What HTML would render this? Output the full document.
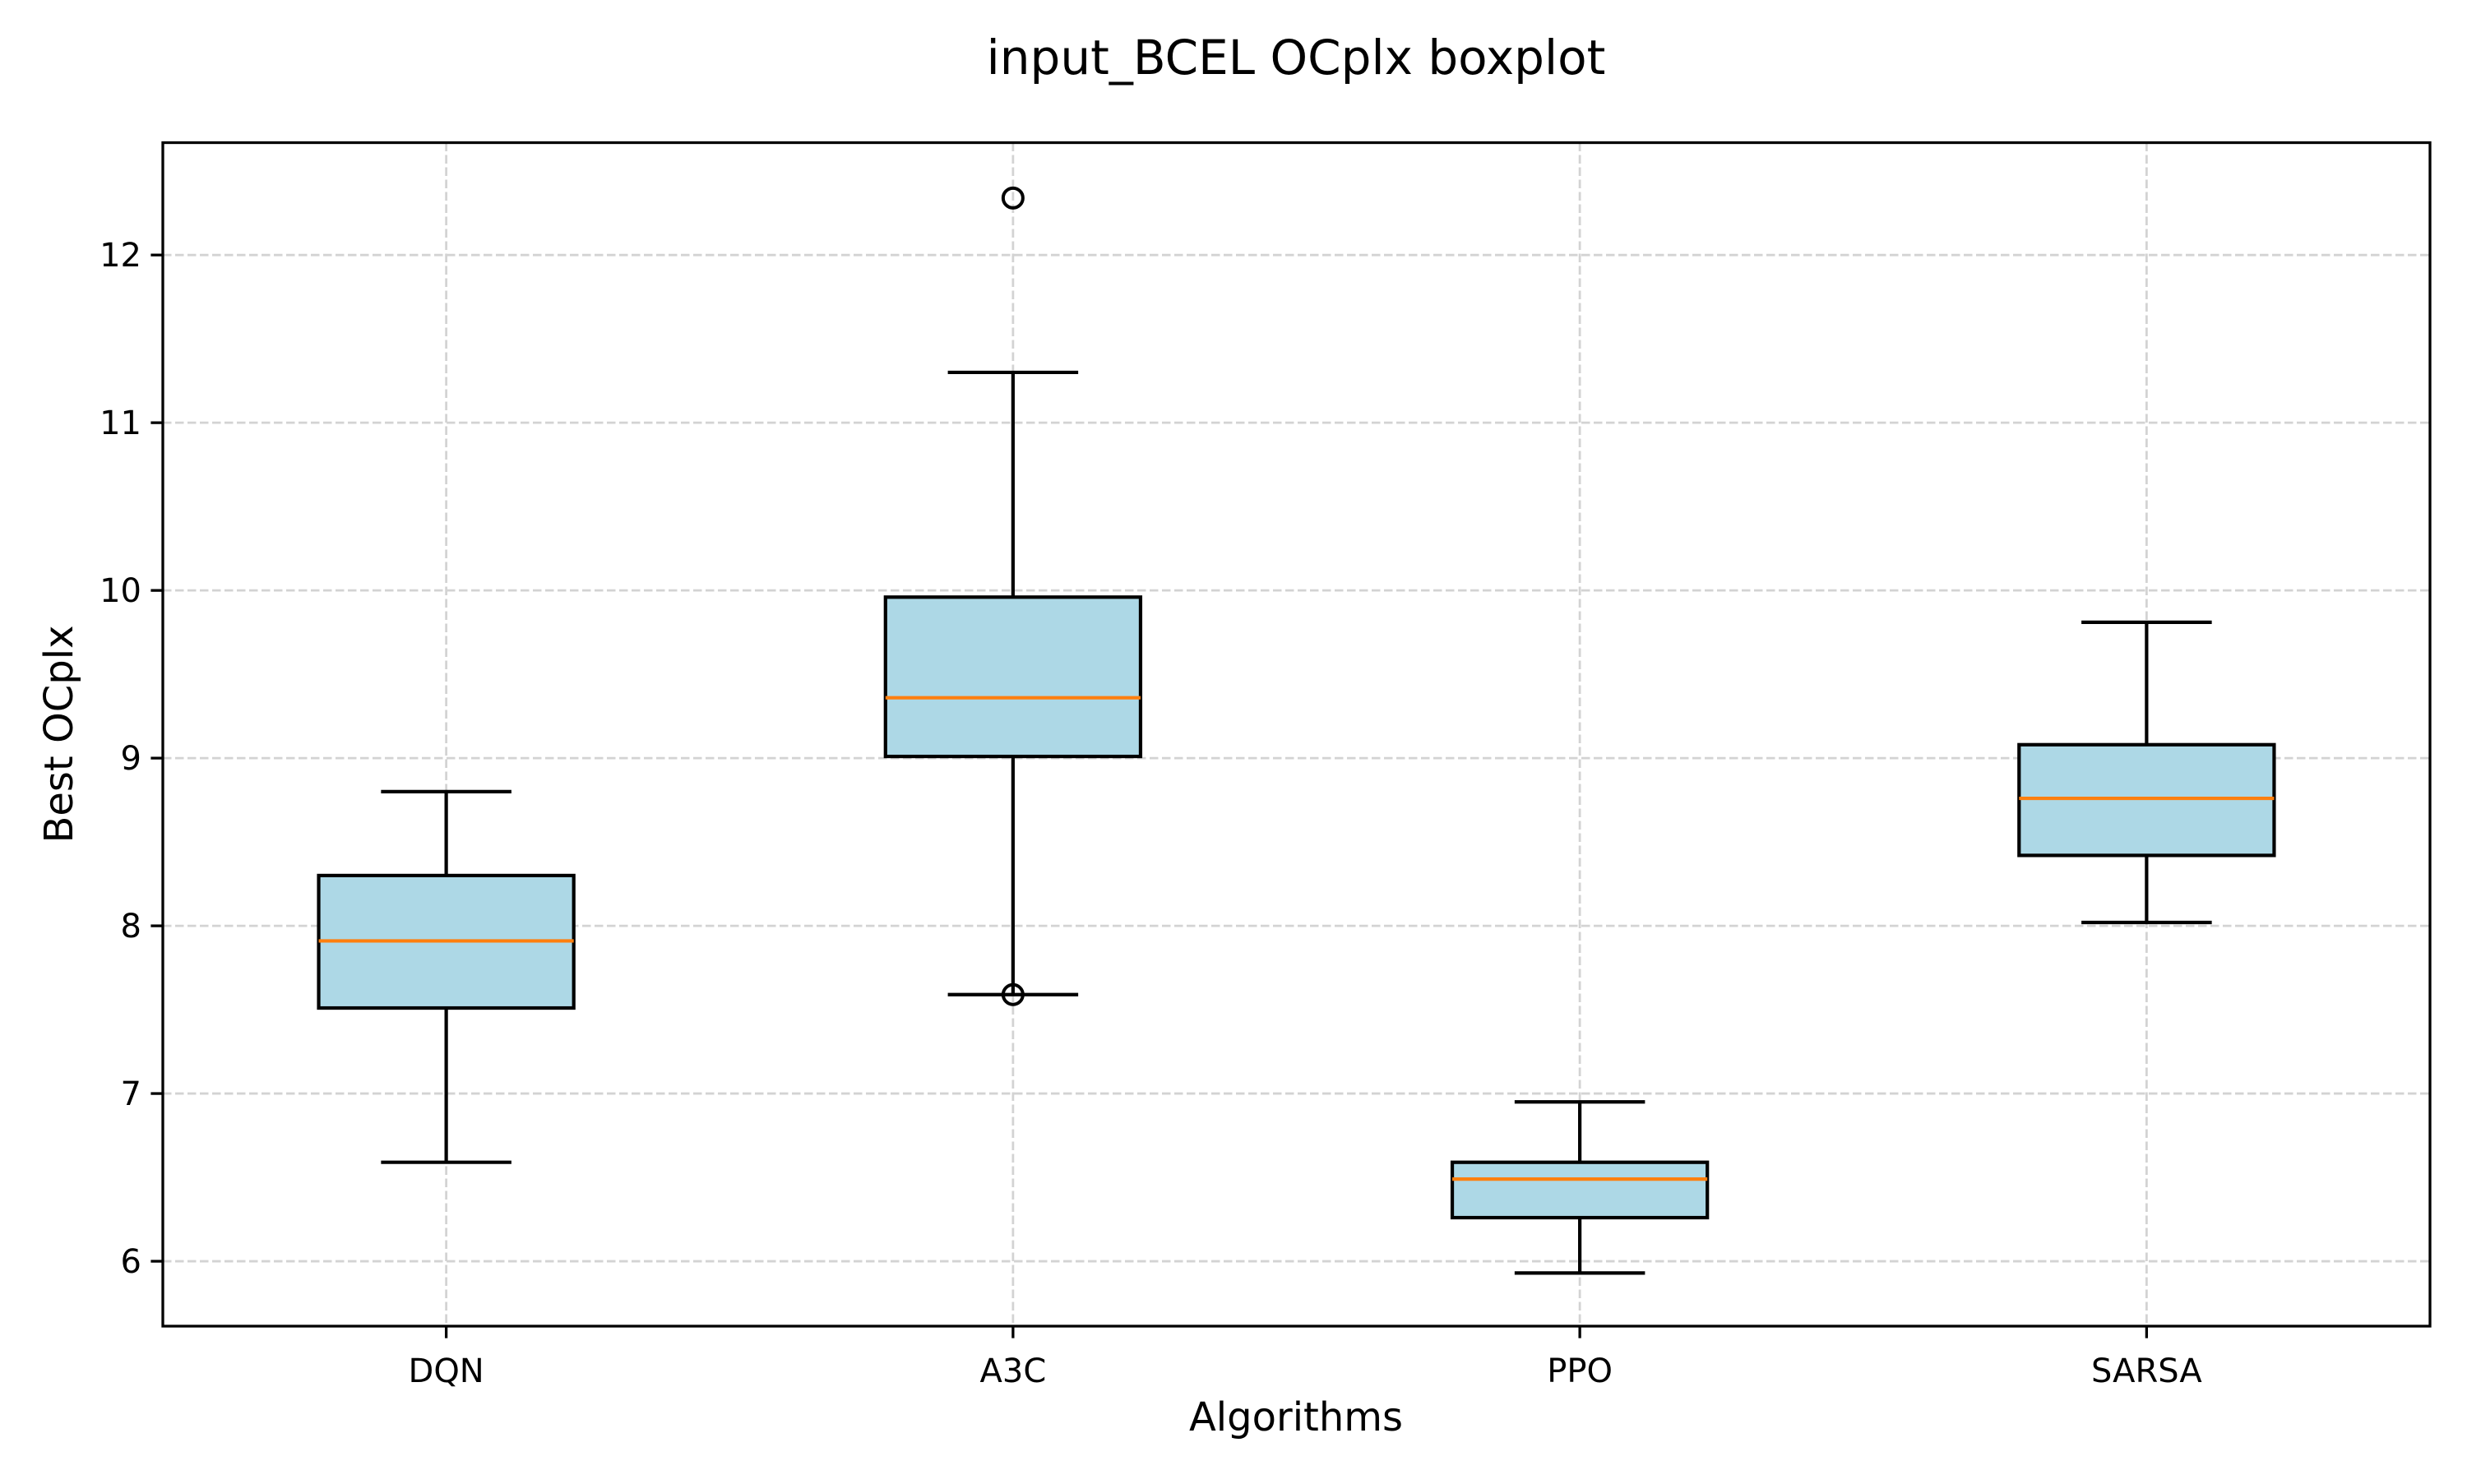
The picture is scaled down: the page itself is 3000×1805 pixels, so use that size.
<!DOCTYPE html>
<html><head><meta charset="utf-8"><style>
html,body{margin:0;padding:0;background:#fff;}
svg text{font-family:"DejaVu Sans","Liberation Sans",sans-serif;fill:#000;}
</style></head><body>
<svg id="chart" width="3000" height="1800" viewBox="0 0 3000 1800" xmlns="http://www.w3.org/2000/svg">
<rect width="3000" height="1800" fill="#fff"/>
<text x="1576" y="90" font-size="58" text-anchor="middle">input_BCEL OCplx boxplot</text>
<g id="grid"></g>
<g id="boxes"></g>
<rect x="198" y="173.5" width="2757" height="1439.5" fill="none" stroke="#000" stroke-width="3.3"/>
<g id="axes"></g>
<text x="1576" y="1740" font-size="48" text-anchor="middle">Algorithms</text>
<text transform="translate(88,893) rotate(-90)" font-size="48" text-anchor="middle">Best OCplx</text>
</svg>
<script>
const categories = ["DQN","A3C","PPO","SARSA"];
const whiskerLow = [6.59, 7.59, 5.93, 8.02];
const q1 = [7.51, 9.01, 6.26, 8.42];
const medians = [7.91, 9.36, 6.49, 8.76];
const q3 = [8.30, 9.96, 6.59, 9.08];
const whiskerHigh = [8.80, 11.30, 6.95, 9.81];
const outlierCat = [1, 1];
const outlierVal = [12.34, 7.59];
const yTicks = [6, 7, 8, 9, 10, 11, 12];

const NS = "http://www.w3.org/2000/svg";
const L = 198, R = 2955, T = 173.5, B = 1613;
const yMin = 5.613, yMax = 12.67;
function xs(i){ return L + (i + 0.5) * (R - L) / categories.length; }
function ys(v){ return B - (v - yMin) / (yMax - yMin) * (B - T); }
function mk(tag, attrs, parent){
  const e = document.createElementNS(NS, tag);
  for (const k in attrs) e.setAttribute(k, attrs[k]);
  parent.appendChild(e);
  return e;
}
const unit = (R - L) / categories.length;
const grid = document.getElementById('grid');
const boxes = document.getElementById('boxes');
const axes = document.getElementById('axes');
const gstyle = {stroke:'#d3d3d3', 'stroke-width':2.8, 'stroke-dasharray':'10.5,4.5'};

yTicks.forEach(t => {
  const y = ys(t);
  const g = mk('line', Object.assign({x1:L, x2:R, y1:y, y2:y}, gstyle), grid);
  
  
  const tk = mk('line', {x1:L-14.6, x2:L, y1:y, y2:y, stroke:'#000', 'stroke-width':3.3}, axes);
  
  
  const tx = mk('text', {x:L-26, y:y+14, 'font-size':40, 'text-anchor':'end'}, axes);
  tx.textContent = t;
  
  
});

categories.forEach((c, i) => {
  const x = xs(i);
  const g = mk('line', Object.assign({x1:x, x2:x, y1:T, y2:B}, gstyle), grid);
  
  
  const tk = mk('line', {x1:x, x2:x, y1:B, y2:B+14.6, stroke:'#000', 'stroke-width':3.3}, axes);
  
  
  const tx = mk('text', {x:x, y:B+68, 'font-size':40, 'text-anchor':'middle'}, axes);
  tx.textContent = c;
  
  

  const hw = unit * 0.225, cw = unit * 0.115;
  const lw = {stroke:'#000', 'stroke-width':4.2};
  const w1 = mk('line', Object.assign({x1:x, x2:x, y1:ys(q1[i]), y2:ys(whiskerLow[i])}, lw), boxes);
  
  
  const w2 = mk('line', Object.assign({x1:x, x2:x, y1:ys(q3[i]), y2:ys(whiskerHigh[i])}, lw), boxes);
  
  
  const c1 = mk('line', Object.assign({x1:x-cw, x2:x+cw, y1:ys(whiskerLow[i]), y2:ys(whiskerLow[i])}, lw), boxes);
  
  
  const c2 = mk('line', Object.assign({x1:x-cw, x2:x+cw, y1:ys(whiskerHigh[i]), y2:ys(whiskerHigh[i])}, lw), boxes);
  
  
  const bx = mk('rect', {x:x-hw, y:ys(q3[i]), width:2*hw, height:ys(q1[i])-ys(q3[i]), fill:'#add8e6', stroke:'#000', 'stroke-width':4.2}, boxes);
  
  
  const md = mk('line', {x1:x-hw, x2:x+hw, y1:ys(medians[i]), y2:ys(medians[i]), stroke:'#ff7f0e', 'stroke-width':4.2}, boxes);
  
  
});

outlierVal.forEach((v, k) => {
  const o = mk('circle', {cx:xs(outlierCat[k]), cy:ys(v), r:12, fill:'none', stroke:'#000', 'stroke-width':4}, boxes);
  
  
});
</script>
</body></html>
